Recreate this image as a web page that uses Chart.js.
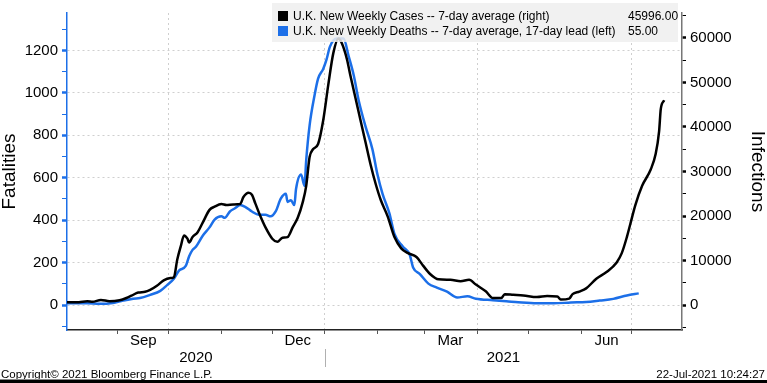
<!DOCTYPE html>
<html><head><meta charset="utf-8">
<script src="https://cdn.jsdelivr.net/npm/chart.js@4.4.0/dist/chart.umd.min.js"></script>
<style>html,body{margin:0;padding:0;background:#fff;overflow:hidden}#wrap{position:relative;width:767px;height:383px}canvas{display:block}</style>
</head><body><div id="wrap"><canvas id="c" width="767" height="383"></canvas></div>
<script>
const casesDates = ['2020-08-02','2020-08-09','2020-08-14','2020-08-17','2020-08-22','2020-08-27','2020-09-02','2020-09-06','2020-09-09','2020-09-13','2020-09-17','2020-09-20','2020-09-24','2020-09-28','2020-10-02','2020-10-04','2020-10-06','2020-10-08','2020-10-10','2020-10-12','2020-10-13','2020-10-15','2020-10-18','2020-10-21','2020-10-25','2020-10-28','2020-11-01','2020-11-04','2020-11-08','2020-11-12','2020-11-14','2020-11-17','2020-11-19','2020-11-21','2020-11-24','2020-11-27','2020-12-01','2020-12-04','2020-12-07','2020-12-10','2020-12-13','2020-12-16','2020-12-19','2020-12-21','2020-12-23','2020-12-25','2020-12-28','2020-12-31','2021-01-03','2021-01-06','2021-01-09','2021-01-11','2021-01-14','2021-01-16','2021-01-19','2021-01-22','2021-01-25','2021-01-28','2021-01-31','2021-02-03','2021-02-07','2021-02-11','2021-02-15','2021-02-19','2021-02-24','2021-02-28','2021-03-04','2021-03-09','2021-03-16','2021-03-22','2021-03-27','2021-03-31','2021-04-06','2021-04-10','2021-04-15','2021-04-17','2021-04-22','2021-04-28','2021-05-06','2021-05-12','2021-05-18','2021-05-20','2021-05-25','2021-05-27','2021-05-31','2021-06-04','2021-06-10','2021-06-16','2021-06-22','2021-06-25','2021-06-28','2021-06-30','2021-07-03','2021-07-07','2021-07-12','2021-07-15','2021-07-17','2021-07-18','2021-07-20'];
const casesValues = [600,650,860,710,1140,860,1080,1580,2100,2810,2960,3390,4320,5550,6050,6260,10220,13110,15620,14900,14040,15270,16350,18510,21380,22100,22680,22460,22610,22680,24260,25210,24770,22830,19930,17430,14900,14190,15120,15270,17430,19590,23180,26780,33260,34990,36180,41470,49460,56650,59890,58810,55230,51620,46590,41530,36500,31460,27140,23540,19930,15270,12740,11660,10800,8790,6980,5770,5680,5330,5680,4600,3020,1580,1580,2440,2310,2160,1790,2010,1940,1230,1450,2440,3020,3740,5900,7410,9570,11660,15270,18140,22460,26780,30390,33970,39030,44060,45996];
const deathsDates = ['2020-08-02','2020-08-14','2020-08-21','2020-08-29','2020-09-04','2020-09-10','2020-09-14','2020-09-20','2020-09-26','2020-09-30','2020-10-04','2020-10-07','2020-10-11','2020-10-13','2020-10-15','2020-10-17','2020-10-21','2020-10-25','2020-10-28','2020-11-01','2020-11-03','2020-11-06','2020-11-09','2020-11-12','2020-11-15','2020-11-19','2020-11-23','2020-11-27','2020-11-30','2020-12-03','2020-12-06','2020-12-09','2020-12-10','2020-12-12','2020-12-14','2020-12-15','2020-12-18','2020-12-20','2020-12-21','2020-12-23','2020-12-26','2020-12-28','2020-12-31','2021-01-02','2021-01-04','2021-01-08','2021-01-12','2021-01-15','2021-01-18','2021-01-21','2021-01-25','2021-01-29','2021-02-01','2021-02-04','2021-02-08','2021-02-11','2021-02-16','2021-02-20','2021-02-22','2021-02-26','2021-03-03','2021-03-08','2021-03-14','2021-03-20','2021-03-26','2021-03-31','2021-04-10','2021-04-18','2021-04-25','2021-05-06','2021-05-16','2021-05-26','2021-06-04','2021-06-12','2021-06-20','2021-06-28','2021-07-05'];
const deathsValues = [8,8,6,10,21,30,33,48,67,94,124,162,184,230,260,275,327,366,403,418,411,441,456,471,463,441,426,426,418,441,501,524,486,494,471,547,615,562,683,847,992,1067,1113,1158,1218,1256,1256,1173,1083,962,841,735,615,524,433,335,275,237,177,146,101,82,63,36,41,30,23,18,13,8,8,12,14,21,29,45,55];
const seriesNames = ['U.K. New Weekly Cases -- 7-day average (right)','U.K. New Weekly Deaths -- 7-day average, 17-day lead (left)'];
const monthTickDates = ['2020-09-01','2020-10-01','2020-11-01','2020-12-01','2021-01-01','2021-02-01','2021-03-01','2021-04-01','2021-05-01','2021-06-01','2021-07-01'];
const gridDates = ['2020-10-01','2021-01-01','2021-04-01','2021-07-01'];
const monthLabelDates = ['2020-09-16','2020-12-16','2021-03-16','2021-06-16'];
const monthLabels = ['Sep','Dec','Mar','Jun'];
const yearLabels = ['2020','2021'];
const yearBoundary = '2021-01-01';
const leftTicks = [0,200,400,600,800,1000,1200];
const rightTicks = [0,10000,20000,30000,40000,50000,60000];
const axisStart = '2020-08-02', axisEnd = '2021-07-30';

const FONT = "'Liberation Sans', Arial, sans-serif";
const BLUE = '#1c6fe8';
const DAY0 = Date.UTC(2021,0,1);
const dayOf = s => (Date.parse(s + 'T00:00:00Z') - DAY0) / 86400000;
const monthDays = monthTickDates.map(dayOf);
const gridDays = gridDates.map(dayOf);
const labelDays = monthLabelDates.map(dayOf);
const clear = 'rgba(0,0,0,0)';

const overlay = {
  id: 'overlay',
  afterDatasetsDraw(chart) {
    const ctx = chart.ctx;
    ctx.save();
    ctx.fillStyle = 'rgba(238,238,238,0.85)';
    ctx.fillRect(272, 3, 406, 39);
    const colors = ['#000', BLUE];
    const vals = [casesValues[casesValues.length-1], deathsValues[deathsValues.length-1]];
    ctx.font = '12px ' + FONT;
    ctx.textBaseline = 'middle';
    for (let i = 0; i < 2; i++) {
      const y = 16 + i * 15;
      ctx.fillStyle = colors[i];
      ctx.fillRect(278, y - 5, 10, 10);
      ctx.fillStyle = '#000';
      ctx.fillText(seriesNames[i], 293, y + 0.5);
      ctx.fillText(vals[i].toFixed(2), 628, y + 0.5);
    }
    ctx.restore();
  },
  afterDraw(chart) {
    const ctx = chart.ctx, xs = chart.scales.x;
    ctx.save();
    const b = xs.getPixelForValue(dayOf(yearBoundary));
    const l = xs.getPixelForValue(xs.min), r = xs.getPixelForValue(xs.max);
    ctx.strokeStyle = '#b0b0b0'; ctx.lineWidth = 1;
    ctx.beginPath(); ctx.moveTo(Math.round(b) + 0.5, 349); ctx.lineTo(Math.round(b) + 0.5, 367); ctx.stroke();
    ctx.fillStyle = '#000'; ctx.font = '15px ' + FONT; ctx.textAlign = 'center'; ctx.textBaseline = 'middle';
    ctx.fillText(yearLabels[0], (l + b) / 2, 358);
    ctx.fillText(yearLabels[1], (b + r) / 2, 358);
    ctx.font = '11.5px ' + FONT; ctx.textBaseline = 'alphabetic';
    ctx.textAlign = 'left'; ctx.fillText('Copyright\u00a9 2021 Bloomberg Finance L.P.', 1, 377.5);
    ctx.textAlign = 'right'; ctx.fillText('22-Jul-2021 10:24:27', 765, 377.5);
    ctx.fillStyle = '#000'; ctx.fillRect(0, 380, 767, 3);
    ctx.fillStyle = '#888'; ctx.fillRect(0, 379, 132, 1);
    ctx.restore();
  }
};

new Chart(document.getElementById('c'), {
  type: 'line',
  data: {
    datasets: [
      { label: seriesNames[0], data: casesDates.map((d,i)=>({x: dayOf(d), y: casesValues[i]})), yAxisID: 'y1', borderColor: '#000', order: 1 },
      { label: seriesNames[1], data: deathsDates.map((d,i)=>({x: dayOf(d), y: deathsValues[i]})), yAxisID: 'y', borderColor: BLUE, order: 2 }
    ]
  },
  options: {
    responsive: false, animation: false, devicePixelRatio: 1,
    layout: { padding: 0 },
    plugins: { legend: { display: false }, tooltip: { enabled: false } },
    elements: { point: { radius: 0 }, line: { borderWidth: 2.5, cubicInterpolationMode: 'monotone', fill: false } },
    scales: {
      x: {
        type: 'linear', position: 'bottom', min: dayOf(axisStart), max: dayOf(axisEnd) + 0.5,
        afterFit(s) { s.height = 53; },
        afterBuildTicks(s) { s.ticks = [...monthDays, ...labelDays].sort((a,b)=>a-b).map(v=>({value: v})); },
        ticks: { autoSkip: false, maxRotation: 0, color: '#000', padding: -1, font: { family: FONT, size: 15, lineHeight: 1 },
          callback: v => { const i = labelDays.indexOf(v); return i >= 0 ? monthLabels[i] : ''; } },
        grid: { color: c => (c.tick && gridDays.includes(c.tick.value)) ? '#cfcfcf' : clear, lineWidth: 1, tickLength: 4,
          tickColor: c => (c.tick && monthDays.includes(c.tick.value)) ? '#555' : clear, tickWidth: 1 },
        border: { color: '#222', width: 1.5, dash: [2, 3] }
      },
      y: {
        type: 'linear', position: 'left', min: -117.7, max: 1376.6,
        afterFit(s) { s.width = 67; },
        afterBuildTicks(s) { const t = []; for (let v = -100; v <= 1300; v += 100) t.push({value: v}); s.ticks = t; },
        ticks: { autoSkip: false, color: '#000', padding: 4, font: { family: FONT, size: 15 },
          callback: v => leftTicks.includes(v) ? String(v) : '' },
        grid: { color: c => (c.tick && leftTicks.includes(c.tick.value)) ? '#cfcfcf' : clear, tickLength: 5,
          tickColor: BLUE, tickWidth: c => (c.tick && leftTicks.includes(c.tick.value)) ? 2.5 : 1 },
        border: { color: BLUE, width: 1.5, dash: [2, 3] },
        title: { display: true, text: 'Fatalities', color: '#000', padding: 0, font: { family: FONT, size: 19, lineHeight: 1 } }
      },
      y1: {
        type: 'linear', position: 'right', min: -5611, max: 65612,
        afterFit(s) { s.width = 85; },
        afterBuildTicks(s) { const t = []; for (let v = -5000; v <= 65000; v += 5000) t.push({value: v}); s.ticks = t; },
        ticks: { autoSkip: false, color: '#000', padding: 4, font: { family: FONT, size: 15 },
          callback: v => rightTicks.includes(v) ? String(v) : '' },
        grid: { drawOnChartArea: false, tickLength: 4, tickColor: '#000',
          tickWidth: c => (c.tick && rightTicks.includes(c.tick.value)) ? 2.5 : 1 },
        border: { color: '#777', width: 1.5 },
        title: { display: true, text: 'Infections', color: '#000', padding: 0, font: { family: FONT, size: 19, lineHeight: 1 } }
      }
    }
  },
  plugins: [overlay]
});
</script></body></html>
